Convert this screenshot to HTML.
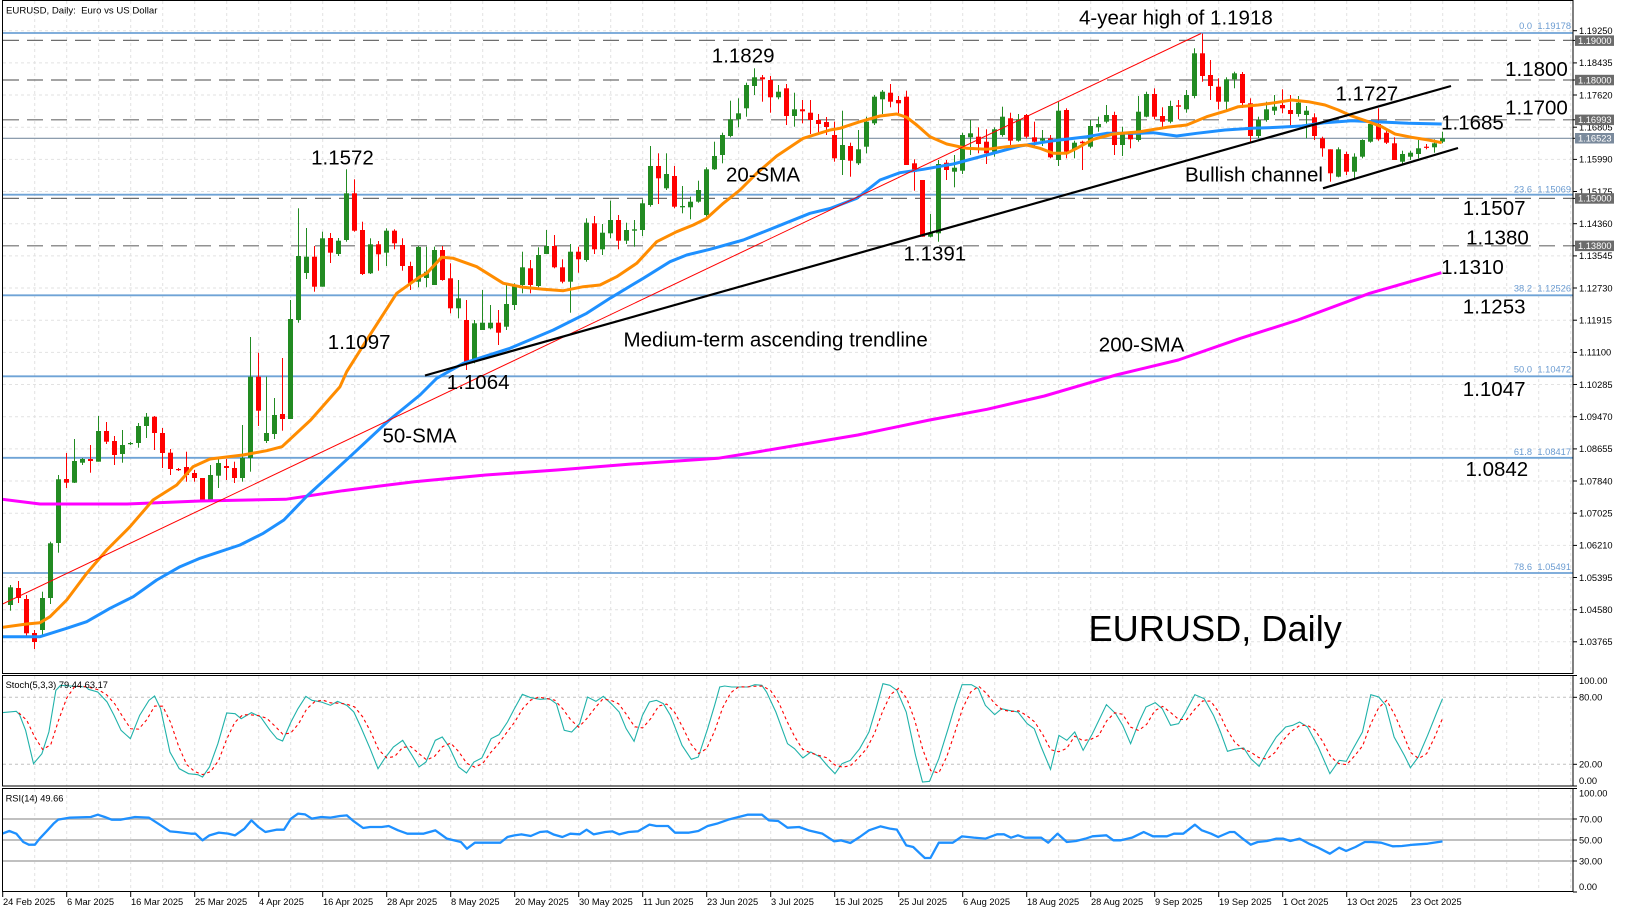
<!DOCTYPE html>
<html><head><meta charset="utf-8">
<style>
html,body{margin:0;padding:0;background:#fff;}
svg{display:block;font-family:"Liberation Sans",Arial,sans-serif;}
.big{font-size:20.5px;fill:#000;}
.sm{font-size:9.3px;fill:#000;}
.fib{font-size:9.3px;fill:#6a9bd1;}
.bx{font-size:9.3px;fill:#fff;}
</style></head><body>
<svg id="c" width="1626" height="913" viewBox="0 0 1626 913" xmlns="http://www.w3.org/2000/svg">
<defs>
<clipPath id="cm"><rect x="3" y="1" width="1570" height="672"/></clipPath>
<clipPath id="cs"><rect x="3" y="676" width="1570" height="110"/></clipPath>
<clipPath id="cr"><rect x="3" y="789" width="1570" height="103"/></clipPath>
</defs>
<rect width="1626" height="913" fill="#fff"/>
<g id="grid" stroke="#e2e2e2" stroke-width="1" stroke-dasharray="3,3"></g>

<!-- stoch / rsi levels -->
<line x1="3" y1="697.3" x2="1573" y2="697.3" stroke="#c0c0c0" stroke-dasharray="3,3"/>
<line x1="3" y1="764.3" x2="1573" y2="764.3" stroke="#c0c0c0" stroke-dasharray="3,3"/>
<line x1="3" y1="819" x2="1573" y2="819" stroke="#c0c0c0" stroke-width="2"/>
<line x1="3" y1="840" x2="1573" y2="840" stroke="#c0c0c0" stroke-width="2"/>
<line x1="3" y1="861" x2="1573" y2="861" stroke="#c0c0c0" stroke-width="2"/>

<g clip-path="url(#cm)">
<!-- fib lines -->
<g stroke="#6fa3d6" stroke-width="1.8">
<line x1="3" y1="33" x2="1573" y2="33"/>
<line x1="3" y1="194.7" x2="1573" y2="194.7"/>
<line x1="3" y1="295.3" x2="1573" y2="295.3"/>
<line x1="3" y1="376.3" x2="1573" y2="376.3"/>
<line x1="3" y1="457.8" x2="1573" y2="457.8"/>
<line x1="3" y1="573" x2="1573" y2="573"/>
</g>
<g stroke="#6e6e6e" stroke-width="1.2" stroke-dasharray="16,8">
<line x1="3" y1="40.4" x2="1573" y2="40.4"/>
<line x1="3" y1="80" x2="1573" y2="80"/>
<line x1="3" y1="119.8" x2="1573" y2="119.8"/>
<line x1="3" y1="198.4" x2="1573" y2="198.4"/>
<line x1="3" y1="245.8" x2="1573" y2="245.8"/>
</g>
<line x1="3" y1="138.3" x2="1573" y2="138.3" stroke="#7d8fa3" stroke-width="1.2"/>
<g id="candles"></g>
<polyline id="ma200" fill="none" stroke="#ff00ff" stroke-width="3" stroke-linejoin="round"/>
<polyline id="ma50" fill="none" stroke="#1e90ff" stroke-width="3" stroke-linejoin="round"/>
<polyline id="ma20" fill="none" stroke="#ff8c00" stroke-width="3" stroke-linejoin="round"/>
<line x1="2.7" y1="604" x2="1201" y2="33.5" stroke="#ff0000" stroke-width="1"/>
<line x1="425" y1="375.5" x2="1451" y2="86" stroke="#000" stroke-width="2.2"/>
<line x1="1323" y1="188.3" x2="1458" y2="148" stroke="#000" stroke-width="2.2"/>
</g>

<g clip-path="url(#cs)">
<polyline id="stk" fill="none" stroke="#20b2aa" stroke-width="1.1"/>
<polyline id="sig" fill="none" stroke="#ff0000" stroke-width="1.1" stroke-dasharray="3,3"/>
</g>
<g clip-path="url(#cr)">
<polyline id="rsi" fill="none" stroke="#1e90ff" stroke-width="2.3" stroke-linejoin="round"/>
</g>

<!-- borders -->
<rect x="2.5" y="0.5" width="1570.5" height="673" fill="none" stroke="#000" stroke-width="1"/>
<rect x="2.5" y="675.5" width="1570.5" height="110.5" fill="none" stroke="#000" stroke-width="1"/>
<rect x="2.5" y="788.5" width="1570.5" height="103" fill="none" stroke="#000" stroke-width="1"/>

<g id="ticks" stroke="#000" stroke-width="1"></g>

<!-- small labels -->
<text class="sm" x="6" y="13.5" style="font-size:9.6px">EURUSD, Daily:&#160; Euro vs US Dollar</text>
<text class="sm" x="5.6" y="688">Stoch(5,3,3) 79.44 63.17</text>
<text class="sm" x="5.6" y="801.3">RSI(14) 49.66</text>

<!-- right axis main -->
<g class="sm" id="raxis">
<text x="1579" y="34">1.19250</text>
<text x="1579" y="66.2">1.18435</text>
<text x="1579" y="98.3">1.17620</text>
<text x="1579" y="130.5">1.16805</text>
<text x="1579" y="162.7">1.15990</text>
<text x="1579" y="194.8">1.15175</text>
<text x="1579" y="227">1.14360</text>
<text x="1579" y="259.2">1.13545</text>
<text x="1579" y="291.3">1.12730</text>
<text x="1579" y="323.5">1.11915</text>
<text x="1579" y="355.7">1.11100</text>
<text x="1579" y="387.8">1.10285</text>
<text x="1579" y="420">1.09470</text>
<text x="1579" y="452.2">1.08655</text>
<text x="1579" y="484.3">1.07840</text>
<text x="1579" y="516.5">1.07025</text>
<text x="1579" y="548.7">1.06210</text>
<text x="1579" y="580.8">1.05395</text>
<text x="1579" y="613">1.04580</text>
<text x="1579" y="645.1">1.03765</text>
<text x="1579" y="684">100.00</text>
<text x="1579" y="700.6">80.00</text>
<text x="1579" y="767.6">20.00</text>
<text x="1579" y="784">0.00</text>
<text x="1579" y="796.3">100.00</text>
<text x="1579" y="822.3">70.00</text>
<text x="1579" y="843.3">50.00</text>
<text x="1579" y="864.3">30.00</text>
<text x="1579" y="890">0.00</text>
</g>
<!-- highlighted boxes -->
<rect x="1575" y="35.4" width="39" height="10.5" fill="#6b6b6b"/>
<text class="bx" x="1578" y="43.8">1.19000</text>
<rect x="1575" y="74.8" width="39" height="10.5" fill="#6b6b6b"/>
<text class="bx" x="1578" y="83.3">1.18000</text>
<rect x="1575" y="114.6" width="39" height="10.5" fill="#6b6b6b"/>
<text class="bx" x="1578" y="123.1">1.16993</text>
<rect x="1575" y="133" width="39" height="10.5" fill="#7a8a9c"/>
<text class="bx" x="1578" y="141.6">1.16523</text>
<rect x="1575" y="193.2" width="39" height="10.5" fill="#6b6b6b"/>
<text class="bx" x="1578" y="201.7">1.15000</text>
<rect x="1575" y="240.6" width="39" height="10.5" fill="#6b6b6b"/>
<text class="bx" x="1578" y="249.1">1.13800</text>

<!-- fib labels -->
<g class="fib" text-anchor="end">
<text x="1532" y="29">0.0</text><text x="1571" y="29">1.19178</text>
<text x="1532" y="192.3">23.6</text><text x="1571" y="192.3">1.15069</text>
<text x="1532" y="291.6">38.2</text><text x="1571" y="291.6">1.12526</text>
<text x="1532" y="372.6">50.0</text><text x="1571" y="372.6">1.10472</text>
<text x="1532" y="455">61.8</text><text x="1571" y="455">1.08417</text>
<text x="1532" y="570">78.6</text><text x="1571" y="570">1.05491</text>
</g>

<!-- date axis -->
<g class="sm" id="dates">
<text x="3" y="905">24 Feb 2025</text>
<text x="67" y="905">6 Mar 2025</text>
<text x="131" y="905">16 Mar 2025</text>
<text x="195" y="905">25 Mar 2025</text>
<text x="259" y="905">4 Apr 2025</text>
<text x="323" y="905">16 Apr 2025</text>
<text x="387" y="905">28 Apr 2025</text>
<text x="451" y="905">8 May 2025</text>
<text x="515" y="905">20 May 2025</text>
<text x="579" y="905">30 May 2025</text>
<text x="643" y="905">11 Jun 2025</text>
<text x="707" y="905">23 Jun 2025</text>
<text x="771" y="905">3 Jul 2025</text>
<text x="835" y="905">15 Jul 2025</text>
<text x="899" y="905">25 Jul 2025</text>
<text x="963" y="905">6 Aug 2025</text>
<text x="1027" y="905">18 Aug 2025</text>
<text x="1091" y="905">28 Aug 2025</text>
<text x="1155" y="905">9 Sep 2025</text>
<text x="1219" y="905">19 Sep 2025</text>
<text x="1283" y="905">1 Oct 2025</text>
<text x="1347" y="905">13 Oct 2025</text>
<text x="1411" y="905">23 Oct 2025</text>
</g>

<!-- annotations -->
<g class="big">
<text x="1079" y="24.3">4-year high of 1.1918</text>
<text x="711.8" y="62.7">1.1829</text>
<text x="311.1" y="164.3">1.1572</text>
<text x="726" y="181.7">20-SMA</text>
<text x="327.8" y="349">1.1097</text>
<text x="623.5" y="346.7">Medium-term ascending trendline</text>
<text x="446.8" y="389">1.1064</text>
<text x="382.5" y="442.7">50-SMA</text>
<text x="903.5" y="260.5">1.1391</text>
<text x="1185" y="181.7">Bullish channel</text>
<text x="1335.5" y="100.7">1.1727</text>
<text x="1441.1" y="129.3">1.1685</text>
<text x="1505.1" y="76">1.1800</text>
<text x="1505.1" y="114.3">1.1700</text>
<text x="1462.8" y="215">1.1507</text>
<text x="1466.1" y="244.3">1.1380</text>
<text x="1441.1" y="274">1.1310</text>
<text x="1462.8" y="313.3">1.1253</text>
<text x="1462.8" y="396">1.1047</text>
<text x="1465.5" y="476">1.0842</text>
<text x="1098.8" y="351.7">200-SMA</text>
<text x="1088.5" y="641" style="font-size:36.2px">EURUSD, Daily</text>
</g>
</svg>
<script>
(function(){
var NS="http://www.w3.org/2000/svg";
function el(t,a,p){var e=document.createElementNS(NS,t);for(var k in a)e.setAttribute(k,a[k]);p.appendChild(e);return e;}
// grid
var g=document.getElementById('grid');
for(var k=0;k<50;k++){var x=2.7+32*k;if(x<4)continue;
 el('line',{x1:x,y1:1,x2:x,y2:673},g);
 el('line',{x1:x,y1:676,x2:x,y2:786},g);
 el('line',{x1:x,y1:789,x2:x,y2:892},g);}
var hy=[30.7,62.9,95,127.2,159.4,191.5,223.7,255.9,288,320.2,352.4,384.5,416.7,448.9,481,513.2,545.4,577.5,609.7,641.8];
hy.forEach(function(y){el('line',{x1:3,y1:y,x2:1573,y2:y},g);});
// ticks
var tk=document.getElementById('ticks');
hy.concat([40.4,80,119.8,138.3,198.4,245.8,675.5,697.3,764.3,786,788.5,819,840,861,892]).forEach(function(y){el('line',{x1:1573,y1:y,x2:1577,y2:y},tk);});
for(var j=0;j<23;j++){var x=2.7+64*j;el('line',{x1:x,y1:892,x2:x,y2:897},tk);}
// candles
var D=[
[605,587.3,585,610.7],[588,598,581,603],[599,633.3,595,638],[633,642,630,649],[630,598,591.7,635],
[598,543.3,541.7,604],[543,479.3,475,552.7],[479,482.7,453,488],[482.7,461,439,483],[462.7,459,458,465],
[459,461,445,472.7],[461.7,431,416,461.7],[431,441.7,422,444],[441,455,436,465],[454,445,430,462.7],
[443.5,443,442,445],[443,426,423,447.7],[426,416.7,413,438],[416.7,433,416,450],[433,453,428,468],
[452.7,469,449,475],[469,470,468,471],[467,475,451.7,481.7],[473,478,470,481.7],[478,500,478,500],
[500,475,465,500],[475.7,463,458,488],[466,468,459,480],[468,478,461.7,483],[478,458,425,481.7],
[458,376.7,337,471.7],[376.7,410.7,352.7,426],[441,433,376.7,443],[434,415,398,439],[414,419,358,430.7],
[419,319,300,419],[320,256,208.3,322.7],[273,256.7,228,279],[256.7,286.7,246,291.7],[286.7,238.3,231.7,286.7],
[238,252.7,233,263],[254,240.7,238,256],[240,193.3,169.3,241.7],[193.3,230.7,179.3,231.7],[230,274,221.7,275],
[273.3,244.3,238.3,274],[244.3,254.3,241,270.7],[252.7,230.7,228.3,266],[230.7,243.3,229.3,249.3],[245,266,238.3,270.7],
[266,283.3,261.7,290],[281.7,247,246,287.3],[278,271.7,246.7,287.3],[285,250,246.7,285],[250,280,246,280.7],
[278.3,308.3,263.3,313.3],[308.3,298.3,280,318.3],[320,363.3,300,370],[361.7,323.3,320,363.3],[330,322.7,290,330],
[328.3,322.7,305,329.3],[322.7,332.7,310,345],[326.7,304,283.3,330],[305,285,283.3,310],[285,267.3,251.7,293.3],
[268.3,285,260,293.3],[286,255,247.3,287.3],[254,246,230,254],[246,267.3,235,268.3],[267.3,281.7,259.3,283.3],
[281.7,251.7,244,312.7],[251.7,259.3,246.7,272.7],[260,222.7,218.3,261.7],[223.3,249.3,216,254],[249.3,232.7,224,255],
[233.3,220,200.7,238.3],[220,240.7,215,249.3],[240.7,230,222.7,244],[230.7,229.3,220,246.7],[230,203.3,199.3,236],
[205,166,146,206.7],[166,178.3,153.3,204],[188.3,174,153.3,190],[176,206.7,166,208.3],[207.3,206,186,213.3],
[207.3,201.7,196.7,219.3],[201.7,190,180.7,202.7],[215,169.3,167.3,216.7],[169.3,156,141.7,170],[155,135,132.7,163.3],
[136,119.3,100.7,137.3],[119.3,113.3,98.3,127.3],[108.3,85,82.7,116.7],[86,77.3,68.3,95],[77.3,79.3,75,101.7],
[80,97.3,76,112.7],[97.3,91.7,85,99.3],[88.3,116,84,125],[116,109.3,92.7,126.7],[109.3,111.3,100,123.3],
[112.7,120,100,134],[120,124,114,135],[122,127,117,135],[135,158.3,121.7,161.7],[160,145,110.7,175],
[146,160.7,142.7,176.7],[163.3,149.3,130,165],[146.7,121.7,116.7,153.3],[123.3,96.7,95,125],[99.3,91.7,90,114],
[92.7,101.7,84,107.3],[100,103.3,96,114],[96.7,165,90.7,165],[163.3,171.7,159.3,190.7],[180,236.7,180,236.7],
[236.7,233.3,214,237.3],[233.3,164,160,241.7],[162.7,170,160,180],[171.7,167.7,155,187.3],[170.7,135,132.7,174],
[137.3,133.3,120,155],[136.7,144,127.3,153.3],[141.7,153.3,129.3,164],[151.7,129.3,127.3,156.7],[135,116.7,106.7,136.7],
[118.3,140.7,112.7,145],[140.7,119.3,114,141.7],[115,136.7,114,138.3],[137.3,141.7,121.7,147.3],[140.7,138.3,130,146],
[138.3,157.3,135,158.3],[160,110.7,101.7,166],[110,151.7,108.3,158.3],[150,142.7,140.7,158.3],[141.7,143.3,140.7,170],
[146.7,126,120,148.3],[127.3,124,116.7,131.7],[121.7,115,105,123.3],[115,145,111.7,155],[145,134,126.7,156],
[133.3,139.3,131.7,148.3],[140,111.7,96,141.7],[116.7,94,91.7,117.3],[94,116.7,88.3,119.3],[116,121.7,107.3,127.3],
[121.7,106,100.7,123.3],[105.3,106.7,100,119.3],[109.3,95,90,112.7],[96,53.3,48.3,98.3],[53.3,76,33.5,81.7],
[75,86,60,100],[86.7,101.7,78.3,109.3],[101.7,79.3,77.3,110],[79.3,73.3,71.7,88.3],[74,103,72,108],
[103.3,136,98.3,141.7],[136,120,116.7,138.3],[120,109.3,101.7,121.7],[110.7,106.7,95,115],[105,108.3,89.3,113.3],
[110,114,95,126.7],[114,102.7,96,116.7],[115,110.7,106,138.3],[117.3,136,113.3,140],[138.3,148.3,136.7,156.7],
[149.3,173.3,149.3,181.7],[176.7,149.3,147.3,177.3],[154,171.7,151.7,175],[171.7,156.7,153.3,178.3],[156.7,140,139.3,158.3],
[141.7,124,121.7,142.7],[124,139.3,108.3,140.7],[132.7,142.7,130,144],[143.3,160,137.3,160],[161.7,154,150.7,164],
[156.7,152.7,150.7,160],[154,148.3,140,158.3],[146.7,147.3,144,149.3],[147.3,143.3,139.3,152.7],[141.7,138.3,131.7,143.3]
];
var cg=document.getElementById('candles');
D.forEach(function(d,i){var k=i+1;var o=d[0],c=d[1],h=d[2],l=d[3];
 var col=(c<o)?'#228b22':'#ff0000';
 var bx=8*k;
 el('rect',{x:bx+2,y:h,width:1,height:Math.max(1,l-h),fill:col},cg);
 var top=Math.min(o,c),ht=Math.max(1.2,Math.abs(o-c));
 el('rect',{x:bx,y:top,width:5,height:ht,fill:col},cg);
});
function pts(a){return a.map(function(p){return p[0]+','+p[1];}).join(' ');}
var ma20=[[2.7,627.3],[26.7,624],[40,622.7],[50,616.7],[66.7,600],[86.7,573.3],[106.7,550],[130,526.7],[153,500],[176.7,485],[193,466.7],[210,459],[243,455],[266.7,450.7],[282,446.7],[310.7,420],[340,386.7],[346.7,371.7],[366.7,340],[396.7,293.3],[420,276.7],[426.7,273.3],[441.7,257.3],[453.3,258.3],[476.7,266.7],[503.3,283.3],[523.3,287.3],[543.3,289.3],[563.3,290.7],[583.3,286.7],[600,285],[616.7,276.7],[636.7,263.3],[656.7,241.7],[676.7,231.7],[693.3,225],[706.7,218.3],[723.3,203.3],[740,190],[756.7,173.3],[776.7,156],[803.3,138.3],[830,130],[840,128.3],[860,121.7],[880,116],[896.7,114],[906.7,117.3],[916.7,125],[930,136.7],[946.7,144],[966.7,148.3],[986.7,149.3],[1006.7,146.7],[1026.7,145],[1040,148.3],[1053.3,153.3],[1066.7,153.3],[1076.7,148.3],[1093.3,139.3],[1113.3,134],[1140,131.7],[1166.7,127.3],[1186.7,125],[1206.7,116.7],[1226.7,110.7],[1238.3,106.7],[1258.3,105],[1275,102.7],[1291.7,100],[1308.3,101.7],[1325,105],[1338.3,110],[1351.7,116],[1368.3,121.7],[1381.7,126.7],[1395,134],[1411.7,137.3],[1428.3,140],[1441.7,142.7]];
var ma50=[[2.7,636.7],[40,636.7],[66.7,628.3],[86.7,621.7],[110,608.3],[133.3,596.7],[156.7,580],[180,566.7],[200,558.3],[240,545],[263.3,533.3],[283.9,520],[307,496],[348.2,458.3],[389.3,420],[420,395],[436.7,378.3],[463.3,363.3],[510,348.3],[553.3,330],[586.7,313.3],[610,298.3],[643.3,278.3],[670,261.7],[686.7,255],[710,249.3],[743.3,240],[776.7,226.7],[810,213.3],[830,208.5],[856.7,198.3],[880,180],[900,172.7],[923.3,169.3],[953.3,164],[986.7,155],[1020,146],[1053.3,140.7],[1086.7,136.7],[1106.7,133.3],[1140,133.3],[1153.3,132.7],[1176.7,136],[1196.7,133.3],[1225,130],[1251.7,128.3],[1278.3,127.3],[1301.7,126],[1325,122.7],[1351.7,120.7],[1375,121.7],[1408.3,123.3],[1441.7,124]];
var ma200=[[2.7,499.3],[40,504],[126.7,504],[200,501],[285.7,499.3],[342.9,490.7],[414.3,481.7],[485.7,475],[557,470],[628.6,464.3],[717.9,458.3],[760,451.5],[857.8,435],[929.6,420],[987,409.3],[1044.4,396],[1116,375],[1178.3,360],[1240.5,338.3],[1297.9,320],[1369.6,293.3],[1441.4,272.7]];
document.getElementById('ma20').setAttribute('points',pts(ma20));
document.getElementById('ma50').setAttribute('points',pts(ma50));
document.getElementById('ma200').setAttribute('points',pts(ma200));
var S=2.148;
function conv(L,R){var out=[];L.forEach(function(p){var x=p[0]/S;if(x<=720)out.push([x,672+p[1]/3]);});
 R.forEach(function(p){var x=720+p[0]/S;if(x>720.5)out.push([x,672+p[1]/3]);});return out;}
var stL=[[5,122],[35,118],[42,128],[55,175],[72,275],[90,245],[105,180],[120,55],[130,40],[150,42],[185,45],[190,52],[210,60],[230,90],[245,130],[260,175],[280,200],[300,130],[320,85],[332,72],[345,110],[365,240],[385,290],[405,305],[425,308],[435,315],[450,285],[468,215],[487,123],[505,125],[518,140],[540,122],[560,135],[580,175],[595,200],[607,207],[625,150],[640,110],[657,73],[670,85],[690,90],[710,100],[725,88],[745,100],[760,120],[775,165],[795,230],[812,290],[825,262],[845,225],[865,205],[885,250],[900,285],[915,270],[935,205],[950,195],[965,225],[985,285],[1002,303],[1018,270],[1035,258],[1055,200],[1072,188],[1090,150],[1105,110],[1122,67],[1140,77],[1160,82],[1180,80],[1195,95],[1212,175],[1228,180],[1245,155],[1262,75],[1280,88],[1296,73],[1315,98],[1330,120],[1345,170],[1362,208],[1380,130],[1395,90],[1410,85],[1425,95],[1440,130],[1465,220],[1485,262],[1500,255],[1520,170],[1535,100],[1546,45]];
var stR=[[0,38],[10,42],[25,45],[60,45],[75,38],[90,40],[100,60],[120,120],[145,215],[160,230],[178,258],[195,240],[215,255],[230,280],[247,305],[262,275],[280,265],[300,230],[320,180],[335,110],[350,35],[365,40],[380,55],[400,120],[420,250],[435,330],[450,328],[470,260],[490,170],[505,100],[520,38],[540,38],[555,50],[570,100],[590,128],[605,110],[620,115],[640,120],[660,155],[675,170],[690,225],[710,292],[728,190],[745,205],[762,180],[780,235],[800,185],[830,98],[850,125],[865,160],[882,215],[900,150],[915,105],[935,92],[950,110],[968,160],[985,155],[1000,120],[1020,68],[1040,80],[1060,130],[1075,180],[1090,238],[1105,232],[1125,228],[1140,260],[1158,283],[1175,240],[1195,195],[1215,165],[1230,160],[1245,150],[1262,165],[1285,225],[1310,305],[1330,265],[1345,268],[1362,225],[1380,180],[1398,68],[1415,75],[1430,100],[1448,195],[1470,250],[1483,287],[1500,255],[1520,190],[1540,120],[1552,80]];
var st=conv(stL,stR);
document.getElementById('stk').setAttribute('points',pts(st));
function interp(a,x){if(x<=a[0][0])return a[0][1];for(var i=1;i<a.length;i++){if(a[i][0]>=x){var t=(x-a[i-1][0])/(a[i][0]-a[i-1][0]);return a[i-1][1]+t*(a[i][1]-a[i-1][1]);}}return a[a.length-1][1];}
var sv=[];for(var k=0;k<=180;k++){sv.push(interp(st,2.7+8*k));}
var sg=[];for(var k=2;k<=180;k++){sg.push([2.7+8*k,(sv[k]+sv[k-1]+sv[k-2])/3]);}
document.getElementById('sig').setAttribute('points',pts(sg));
var rL=[[5,485],[20,477],[35,485],[50,510],[62,518],[75,518],[85,500],[100,478],[115,455],[125,443],[150,437],[195,435],[210,428],[225,435],[240,443],[260,443],[290,435],[320,437],[340,455],[365,478],[380,480],[410,485],[420,485],[435,505],[450,490],[470,482],[490,485],[505,490],[525,470],[540,445],[555,465],[570,480],[595,473],[610,473],[625,440],[640,425],[655,427],[670,440],[690,435],[710,437],[730,432],[745,430],[760,448],[780,468],[795,465],[820,465],[835,462],[855,475],[875,485],[910,485],[935,475],[950,490],[960,500],[990,510],[1003,530],[1020,512],[1075,512],[1090,495],[1105,490],[1120,487],[1140,492],[1160,480],[1175,478],[1190,488],[1208,495],[1225,485],[1245,487],[1260,473],[1275,487],[1300,480],[1315,478],[1330,487],[1350,480],[1370,478],[1395,458],[1410,462],[1435,462],[1450,482],[1480,482],[1500,477],[1520,462],[1540,455]];
var rR=[[0,448],[20,442],[40,435],[60,428],[90,428],[105,445],[125,447],[145,467],[170,465],[190,475],[220,485],[245,508],[260,505],[280,513],[300,495],[320,475],[345,463],[365,470],[380,473],[400,520],[415,525],[430,545],[440,558],[452,558],[470,512],[500,512],[520,493],[545,497],[570,500],[595,487],[610,487],[625,497],[640,490],[655,497],[690,497],[705,512],[725,485],[745,510],[765,507],[785,500],[800,493],[830,490],[845,505],[860,505],[885,497],[910,480],[930,493],[960,493],[975,485],[995,485],[1020,458],[1035,475],[1055,485],[1070,495],[1095,480],[1105,480],[1120,497],[1140,518],[1155,510],[1175,507],[1195,500],[1210,500],[1225,507],[1245,500],[1265,515],[1285,527],[1310,545],[1330,527],[1345,537],[1365,525],[1385,510],[1400,510],[1420,512],[1445,523],[1465,522],[1490,518],[1520,515],[1552,508]];
document.getElementById('rsi').setAttribute('points',pts(conv(rL,rR)));
})();
</script>
</body></html>
